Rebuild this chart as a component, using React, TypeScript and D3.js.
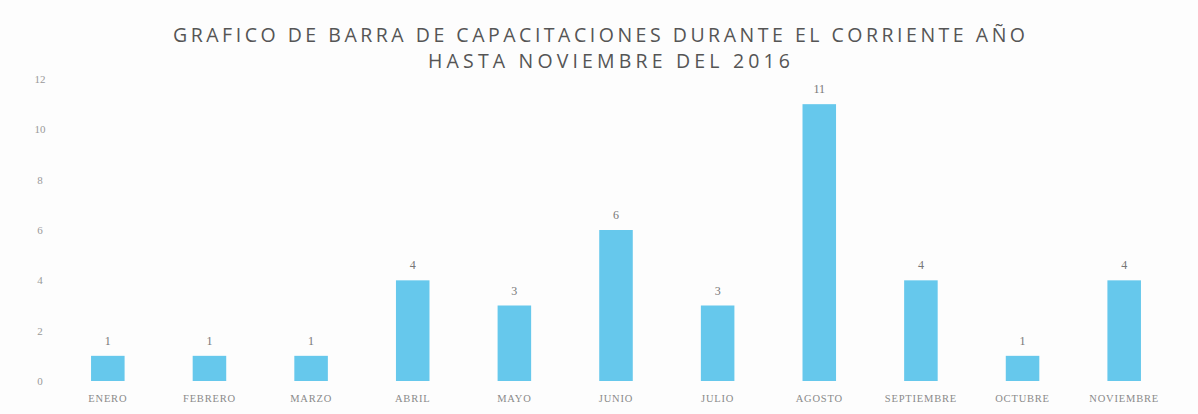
import React from "react";
import * as d3 from "d3";

const categories = ["ENERO", "FEBRERO", "MARZO", "ABRIL", "MAYO", "JUNIO", "JULIO", "AGOSTO", "SEPTIEMBRE", "OCTUBRE", "NOVIEMBRE"];
const values = [1, 1, 1, 4, 3, 6, 3, 11, 4, 1, 4];
const yTicks = [0, 2, 4, 6, 8, 10, 12];
const titleLines = ["GRAFICO DE BARRA DE CAPACITACIONES DURANTE EL CORRIENTE AÑO", "HASTA NOVIEMBRE DEL 2016"];

const W = 1198;
const H = 414;

export default function App() {
  const x = d3.scaleBand<string>().domain(categories).range([57, 1175]).paddingInner(0.67).paddingOuter(0.335);
  const y = d3.scaleLinear().domain([0, 12]).range([381, 79]);
  const bw = x.bandwidth();

  return (
    <svg width={W} height={H} style={{ position: "absolute", left: 0, top: 0, background: "#fff" }}>
      <rect x={0} y={0} width={W} height={H} fill="#fdfdfd" />
      <text x={599} y={42} textAnchor="middle" fontFamily="Open Sans, Lato, sans-serif" fontSize={19.5} fill="#555" textLength={852} lengthAdjust="spacing">
        {titleLines[0]}
      </text>
      <text x={609} y={68} textAnchor="middle" fontFamily="Open Sans, Lato, sans-serif" fontSize={19.5} fill="#555" textLength={362} lengthAdjust="spacing">
        {titleLines[1]}
      </text>
      {yTicks.map((t) => (
        <text key={t} x={40} y={y(t)} dy="0.35em" textAnchor="middle" fontFamily="Liberation Serif, serif" fontSize={11} fill="#999">
          {t}
        </text>
      ))}
      {categories.map((c, i) => (
        <g key={c}>
          <rect x={x(c)} y={y(values[i])} width={bw} height={y(0) - y(values[i])} fill="#66c8ec" />
          <text x={(x(c) as number) + bw / 2} y={y(values[i]) - 11} textAnchor="middle" fontFamily="Liberation Serif, serif" fontSize={12} fill="#777">
            {values[i]}
          </text>
          <text x={(x(c) as number) + bw / 2} y={y(0) + 17} dy="0.35em" textAnchor="middle" fontFamily="Liberation Serif, serif" fontSize={10.5} letterSpacing={0.8} fill="#8a8a8a">
            {c}
          </text>
        </g>
      ))}
    </svg>
  );
}
